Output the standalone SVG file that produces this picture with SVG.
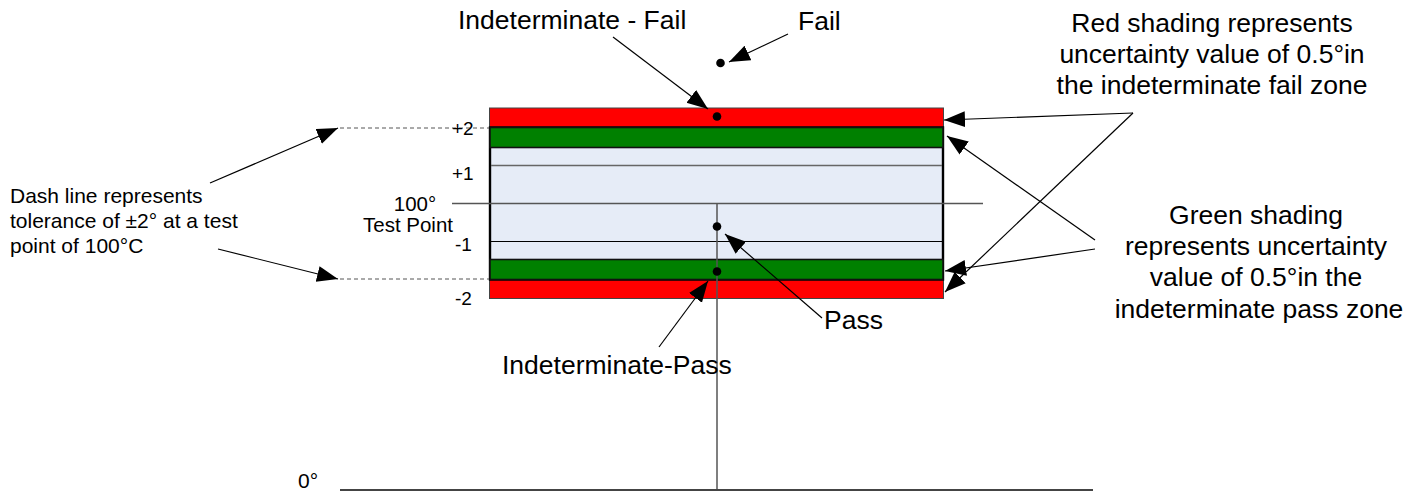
<svg xmlns="http://www.w3.org/2000/svg" width="1419" height="492" viewBox="0 0 1419 492">
  <defs>
    <marker id="arrow" markerUnits="userSpaceOnUse" markerWidth="22" markerHeight="18" refX="21" refY="8" orient="auto">
      <path d="M0,0 L21,8 L0,16 z" fill="#000"/>
    </marker>
    <style>
      text { font-family: "Liberation Sans", Arial, sans-serif; fill: #000; }
      .big { font-size: 26.5px; }
      .mid { font-size: 21px; }
      .tick { font-size: 19px; }
      .tp { font-size: 20.5px; }
      .lead { fill: none; stroke: #000; stroke-width: 1.2; marker-end: url(#arrow); }
      .dash { fill: none; stroke: #555; stroke-width: 1; stroke-dasharray: 4 3; }
      .axis { fill: none; stroke: #555; stroke-width: 1.5; }
      .dot { fill: #000; }
    </style>
  </defs>

  <!-- tolerance band -->
  <g id="band">
    <rect x="489.5" y="108" width="454" height="19.5" fill="#ff0000" stroke="#444" stroke-width="1"/>
    <rect x="489.5" y="279" width="454" height="19.5" fill="#ff0000" stroke="#444" stroke-width="1"/>
    <rect x="490" y="127.5" width="453" height="152" fill="#e6ecf7" stroke="#000" stroke-width="2.4"/>
    <rect x="490" y="127.5" width="453" height="20" fill="#008000" stroke="#111" stroke-width="1.6"/>
    <rect x="490" y="259.5" width="453" height="20" fill="#008000" stroke="#111" stroke-width="1.6"/>
    <line x1="491" y1="165.5" x2="942" y2="165.5" stroke="#666" stroke-width="1.5"/>
    <line x1="491" y1="241.5" x2="942" y2="241.5" stroke="#000" stroke-width="1.2"/>
  </g>

  <!-- axes -->
  <g id="axes">
    <line class="axis" x1="452" y1="203.5" x2="983" y2="203.5"/>
    <line class="axis" x1="717" y1="203.5" x2="717" y2="490"/>
    <line x1="340" y1="490" x2="1093" y2="490" stroke="#444" stroke-width="2"/>
    <line class="dash" x1="340" y1="128" x2="489" y2="128"/>
    <line class="dash" x1="340" y1="279" x2="489" y2="279"/>
  </g>

  <!-- zone markers -->
  <g id="points">
    <circle class="dot" cx="720.5" cy="63" r="4.3"/>
    <circle class="dot" cx="717" cy="116.5" r="4.3"/>
    <circle class="dot" cx="717" cy="226.5" r="4.3"/>
    <circle class="dot" cx="717" cy="271.5" r="4.3"/>
  </g>

  <!-- scale labels -->
  <g id="scale-labels">
    <text class="tick" x="452" y="135">+2</text>
    <text class="tick" x="452" y="180">+1</text>
    <text class="tp" x="415" y="211" text-anchor="middle">100°</text>
    <text class="tp" x="408" y="232" text-anchor="middle">Test Point</text>
    <text class="tick" x="455" y="251">-1</text>
    <text class="tick" x="455" y="305">-2</text>
    <text class="mid" x="298" y="488">0°</text>
  </g>

  <g id="label-indeterminate-fail">
    <text class="big" x="458" y="29">Indeterminate - Fail</text>
  </g>
  <g id="label-fail">
    <text class="big" x="798" y="30">Fail</text>
  </g>
  <g id="label-red">
    <text class="big" text-anchor="middle" x="1212" y="32">Red shading represents</text>
    <text class="big" text-anchor="middle" x="1212" y="63">uncertainty value of 0.5°in</text>
    <text class="big" text-anchor="middle" x="1212" y="94">the indeterminate fail zone</text>
  </g>
  <g id="label-green">
    <text class="big" text-anchor="middle" x="1256" y="224">Green shading</text>
    <text class="big" text-anchor="middle" x="1256" y="255">represents uncertainty</text>
    <text class="big" text-anchor="middle" x="1256" y="286">value of 0.5°in the</text>
    <text class="big" text-anchor="middle" x="1259" y="318">indeterminate pass zone</text>
  </g>
  <g id="label-dash">
    <text class="mid" x="10" y="203">Dash line represents</text>
    <text class="mid" x="10" y="228">tolerance of ±2° at a test</text>
    <text class="mid" x="10" y="253">point of 100°C</text>
  </g>
  <g id="label-pass">
    <text class="big" x="824" y="329">Pass</text>
  </g>
  <g id="label-indeterminate-pass">
    <text class="big" x="502" y="374">Indeterminate-Pass</text>
  </g>

  <!-- leader arrows -->
  <g id="connectors">
    <line class="lead" x1="613" y1="37" x2="708" y2="109"/>
    <line class="lead" x1="788" y1="34" x2="729" y2="62"/>
    <line class="lead" x1="1133" y1="113" x2="944" y2="120"/>
    <line class="lead" x1="1133" y1="113" x2="945" y2="292"/>
    <line class="lead" x1="1095" y1="240" x2="947" y2="136"/>
    <line class="lead" x1="1095" y1="249" x2="945" y2="271"/>
    <line class="lead" x1="210" y1="183" x2="338" y2="128"/>
    <line class="lead" x1="218" y1="249" x2="338" y2="279"/>
    <line class="lead" x1="822" y1="318" x2="725" y2="234"/>
    <line class="lead" x1="659" y1="347" x2="708" y2="281"/>
  </g>
</svg>
